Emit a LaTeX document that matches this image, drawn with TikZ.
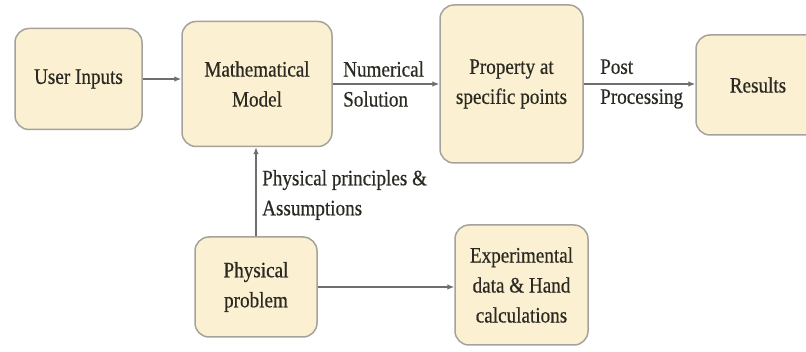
\documentclass[tikz,border=0pt]{standalone}
\usepackage{fontspec}
\setmainfont[FakeStretch=0.87,FakeBold=0.5]{Liberation Serif}
\usetikzlibrary{arrows.meta}
\definecolor{boxfill}{HTML}{FCF0D2}
\definecolor{boxline}{HTML}{A4A29A}
\definecolor{arrowcol}{HTML}{6E6E6E}
\definecolor{txt}{HTML}{2A2A22}
\begin{document}
\begin{tikzpicture}[x=1pt,y=-1pt,
  blk/.style={draw=boxline, line width=1.5pt, fill=boxfill, rounded corners=14pt,
    align=center, inner sep=0pt, text=txt, font=\fontsize{22}{30}\selectfont},
  lbl/.style={align=left, inner sep=0pt, anchor=west, text=txt, font=\fontsize{22}{30}\selectfont},
  conn/.style={draw=arrowcol, line width=1.2pt, -{Latex[length=7pt,width=5.5pt]}}]
\useasboundingbox (0,0) rectangle (806,352);
\node[blk, minimum width=127pt, minimum height=101pt] (ui) at (78.5,79) {User Inputs};
\node[blk, minimum width=150pt, minimum height=125pt] (mm) at (257,84) {Mathematical\\Model};
\node[blk, minimum width=143pt, minimum height=158pt] (pp) at (511.5,84) {Property at\\specific points};
\node[blk, minimum width=124pt, minimum height=100pt] (res) at (758,85) {Results};
\node[blk, minimum width=122pt, minimum height=100pt] (phys) at (256,287) {Physical\\problem};
\node[blk, minimum width=133pt, minimum height=120pt] (exp) at (521.5,285) {Experimental\\data \& Hand\\calculations};
\draw[conn] (ui.east) -- (ui.east -| mm.west);
\draw[conn] (mm.east) -- (mm.east -| pp.west);
\draw[conn] (pp.east) -- (pp.east -| res.west);
\draw[conn] (phys.north) -- (phys.north |- mm.south);
\draw[conn] (phys.east) -- (phys.east -| exp.west);
\node[lbl] (l1) at (343,84) {Numerical\\Solution};
\node[lbl] (l2) at (600,84) {Post\\Processing};
\node[lbl] (l3) at (262,195) {Physical principles \&\\Assumptions};
\end{tikzpicture}
\end{document}
